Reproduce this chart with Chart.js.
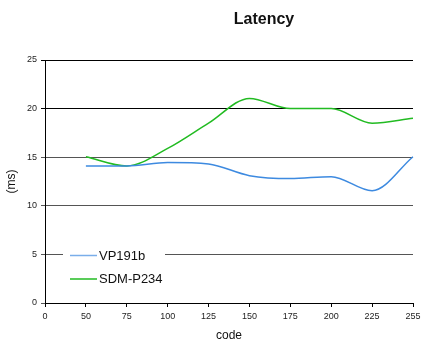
<!DOCTYPE html>
<html>
<head>
<meta charset="utf-8">
<script src="https://cdn.jsdelivr.net/npm/chart.js@4/dist/chart.umd.min.js"></script>
<style>
  html, body { margin: 0; padding: 0; background: #fff; }
  #wrap { width: 425px; height: 347px; }
</style>
</head>
<body>
<div id="wrap"><canvas id="c" width="425" height="347"></canvas></div>
<script>
// Code steps along the x axis (evenly spaced categories)
const codes = ['0', '50', '75', '100', '125', '150', '175', '200', '225', '255'];
// Latency in ms per code step (no reading at code 0)
const vp191b  = [null, 14.1, 14.1, 14.45, 14.3, 13.1, 12.8, 13.0, 11.55, 15.05];
const sdmP234 = [null, 15.05, 14.1, 15.9, 18.5, 21.05, 20.0, 20.0, 18.5, 19.0];
const yTicks = [0, 5, 10, 15, 20, 25];

const BLUE = '#3d8ae0';
const GREEN = '#22bb22';
const FONT = 'Liberation Sans, Arial, sans-serif';

// Chart title, placed above the plot
const titlePlugin = {
  id: 'latencyTitle',
  afterDraw(chart) {
    const ctx = chart.ctx;
    ctx.save();
    ctx.font = 'bold 16px ' + FONT;
    ctx.fillStyle = '#111';
    ctx.textAlign = 'center';
    ctx.textBaseline = 'middle';
    ctx.fillText('Latency', 264, 20);
    ctx.restore();
  }
};

// Legend box drawn inside the plot, lower left
const insideLegend = {
  id: 'insideLegend',
  afterDraw(chart) {
    const ctx = chart.ctx;
    const x0 = 63, y0 = 244, w = 102, h = 46;
    ctx.save();
    ctx.fillStyle = '#fff';
    ctx.fillRect(x0, y0, w, h);
    ctx.font = '13px ' + FONT;
    ctx.textBaseline = 'middle';
    ctx.fillStyle = '#111';
    chart.data.datasets.forEach((ds, i) => {
      const y = 255 + i * 23.5;
      ctx.strokeStyle = i === 0 ? '#7aaeea' : GREEN;
      ctx.lineWidth = 1.5;
      ctx.beginPath();
      ctx.moveTo(70, y + 0.5);
      ctx.lineTo(97, y + 0.5);
      ctx.stroke();
      ctx.fillText(ds.label, 99, y + 1);
    });
    ctx.restore();
  }
};

new Chart(document.getElementById('c'), {
  type: 'line',
  data: {
    labels: codes,
    datasets: [
      { label: 'VP191b', data: vp191b, borderColor: BLUE, backgroundColor: BLUE,
        borderWidth: 1.5, pointRadius: 0, cubicInterpolationMode: 'monotone', spanGaps: false },
      { label: 'SDM-P234', data: sdmP234, borderColor: GREEN, backgroundColor: GREEN,
        borderWidth: 1.5, pointRadius: 0, cubicInterpolationMode: 'monotone', spanGaps: false }
    ]
  },
  options: {
    responsive: false,
    animation: false,
    devicePixelRatio: 1,
    layout: { padding: { top: 60, right: 12, left: 0, bottom: 0 } },
    plugins: {
      legend: { display: false },
      title: { display: false },
      tooltip: { enabled: false }
    },
    scales: {
      x: {
        type: 'category',
        offset: false,
        border: { display: true, color: '#000', width: 1 },
        grid: { display: true, drawOnChartArea: false, drawTicks: true, tickLength: 4, color: '#000' },
        ticks: { color: '#222', font: { size: 9, family: FONT }, padding: 4, maxRotation: 0, autoSkip: false },
        title: { display: true, text: 'code', color: '#111', font: { size: 12, family: FONT } },
        afterFit(scale) { scale.height = 44; }
      },
      y: {
        min: 0, max: 25,
        afterBuildTicks(scale) { scale.ticks = yTicks.map(v => ({ value: v })); },
        border: { display: true, color: '#000', width: 1 },
        grid: {
          display: true, drawTicks: true, tickLength: 4,
          color: (c) => (c.tick && c.tick.value >= 20) ? '#000' : '#555',
          lineWidth: 1
        },
        ticks: { color: '#222', font: { size: 9, family: FONT }, padding: 4 },
        title: { display: true, text: '(ms)', color: '#111', font: { size: 12, family: FONT } },
        afterFit(scale) { scale.width = 45; }
      }
    }
  },
  plugins: [titlePlugin, insideLegend]
});
</script>
</body>
</html>
